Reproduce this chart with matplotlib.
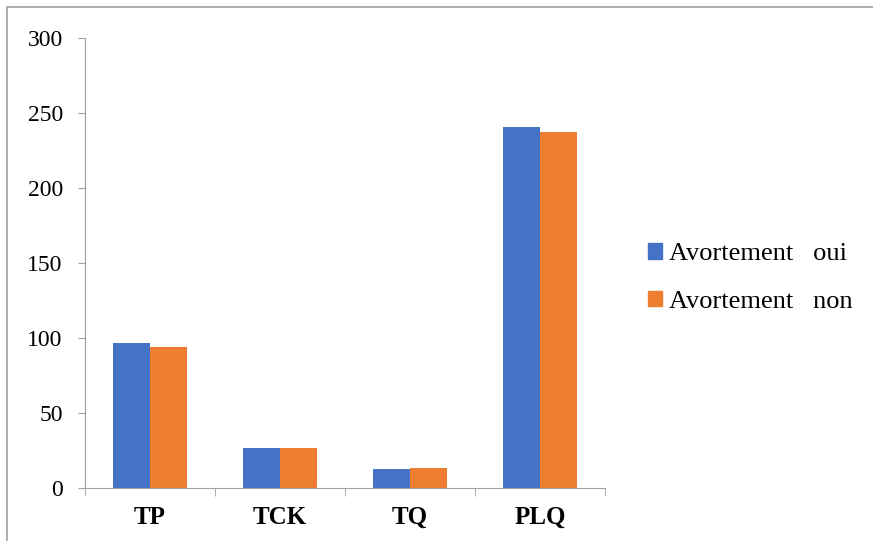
import matplotlib.pyplot as plt
import numpy as np
from matplotlib.patches import Rectangle

plt.rcParams['font.family'] = ['Liberation Serif', 'DejaVu Serif']

categories = ["TP", "TCK", "TQ", "PLQ"]
oui = [96.4, 26.4, 12.7, 240.4]
non = [94.2, 26.9, 13.3, 237.1]
labels = ["Avortement   oui", "Avortement   non"]
colors = ["#4472C4", "#ED7D31"]

fig = plt.figure(figsize=(8.73, 5.41), dpi=100)
ax = fig.add_axes([85 / 873, 1 - 488 / 541, 520 / 873, 450 / 541])

x = np.arange(len(categories))
w = 0.285
ax.bar(x - w / 2, oui, w, color=colors[0], label=labels[0])
ax.bar(x + w / 2, non, w, color=colors[1], label=labels[1])

ax.set_xlim(-0.5, len(categories) - 0.5)
ax.set_ylim(0, 300)
ax.set_yticks(range(0, 301, 50))
ax.tick_params(axis='y', labelsize=17, length=5, color='#a0a0a0', pad=11)
ax.set_xticks(x)
ax.set_xticklabels(categories, fontsize=18, fontweight='bold')
ax.tick_params(axis='x', length=0, pad=13)
# category separators below the axis
ax.set_xticks(np.arange(-0.5, len(categories)), minor=True)
ax.tick_params(axis='x', which='minor', length=6, color='#a0a0a0')

for s in ['top', 'right']:
    ax.spines[s].set_visible(False)
for s in ['left', 'bottom']:
    ax.spines[s].set_color('#a0a0a0')

# legend drawn to the right of the plot
handles = [Rectangle((0, 0), 1, 1, color=c) for c in colors]
fig.legend(handles, labels, loc='center left', bbox_to_anchor=(624 / 873, 1 - 278 / 541),
           frameon=False, fontsize=19, handlelength=0.55, handleheight=0.55,
           handletextpad=0.25, labelspacing=0.95)

# outer chart border
fig.patches.append(Rectangle((7 / 873, -0.05), 1.0, 1 - 7 / 541 + 0.05, transform=fig.transFigure,
                             fill=False, edgecolor='#a0a0a0', linewidth=1.2))

fig.savefig("out.png", dpi=100)
